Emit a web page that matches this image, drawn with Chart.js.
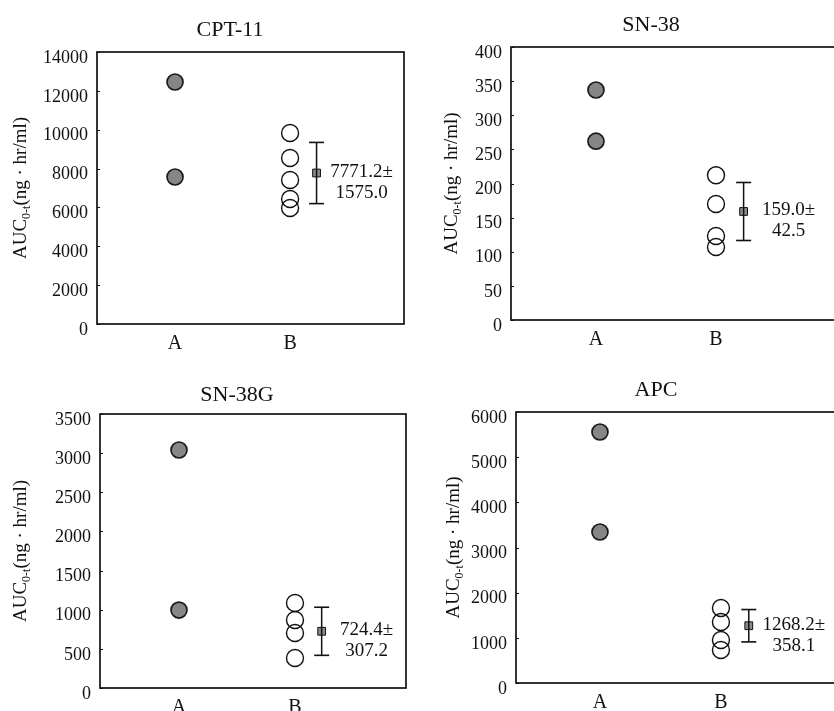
<!DOCTYPE html>
<html><head><meta charset="utf-8">
<script src="https://cdn.jsdelivr.net/npm/chart.js@4/dist/chart.umd.min.js"></script>
<style>
html,body{margin:0;padding:0;width:834px;height:711px;overflow:hidden;background:#fff;}
canvas{position:absolute;}
</style></head><body>
<canvas id="c0" width="460" height="360" style="left:0;top:0"></canvas>
<canvas id="c1" width="474" height="360" style="left:414px;top:0"></canvas>
<canvas id="c2" width="474" height="351" style="left:0;top:360px"></canvas>
<canvas id="c3" width="484" height="351" style="left:414px;top:360px"></canvas>
<script>
// ---- data ----
const categories = ['A', 'B'];
const yTitleMain = 'AUC', yTitleSub = '0-t', yTitleRest = '(ng \u00B7 hr/ml)';

const titles = ['CPT-11', 'SN-38', 'SN-38G', 'APC'];

const cpt11A = [12456, 7566];
const cpt11B = [9830, 8544, 7412, 6434, 5970];
const cpt11Mean = 7771.2, cpt11SD = 1575.0;
const cpt11Ticks = [0, 2000, 4000, 6000, 8000, 10000, 12000, 14000];

const sn38A = [337, 262];
const sn38B = [212, 170, 123, 107];
const sn38Mean = 159.0, sn38SD = 42.5;
const sn38Ticks = [0, 50, 100, 150, 200, 250, 300, 350, 400];

const sn38gA = [3040, 996];
const sn38gB = [1086, 869, 703, 383];
const sn38gMean = 724.4, sn38gSD = 307.2;
const sn38gTicks = [0, 500, 1000, 1500, 2000, 2500, 3000, 3500];

const apcA = [5557, 3343];
const apcB = [1660, 1350, 952, 730];
const apcMean = 1268.2, apcSD = 358.1;
const apcTicks = [0, 1000, 2000, 3000, 4000, 5000, 6000];

// ---- layout / style ----
const SERIF = '"Liberation Serif", "Times New Roman", serif';
const MEAN_X = 2.23;
const layouts = [
  {id:'c0', top:52, titleY:30, titleCX:230, yw:97,  pr:56, xh:36, xmin:0.322, xmax:2.99,  titleX:20},
  {id:'c1', top:47, titleY:25, titleCX:237, yw:97,  pr:48, xh:40, xmin:0.292, xmax:3.033, titleX:37},
  {id:'c2', top:54, titleY:35, titleCX:237, yw:100, pr:68, xh:23, xmin:0.319, xmax:2.957, titleX:20},
  {id:'c3', top:52, titleY:30, titleCX:242, yw:102, pr:58, xh:28, xmin:0.306, xmax:2.984, titleX:39}
];
const panels = [
  {a:cpt11A, b:cpt11B, mean:cpt11Mean, sd:cpt11SD, ticks:cpt11Ticks},
  {a:sn38A,  b:sn38B,  mean:sn38Mean,  sd:sn38SD,  ticks:sn38Ticks},
  {a:sn38gA, b:sn38gB, mean:sn38gMean, sd:sn38gSD, ticks:sn38gTicks},
  {a:apcA,   b:apcB,   mean:apcMean,   sd:apcSD,   ticks:apcTicks}
];

const decorPlugin = {
  id: 'decor',
  beforeDatasetsDraw(chart, args, o) {
    const {ctx, chartArea: ca} = chart;
    ctx.save();
    ctx.strokeStyle = '#111';
    ctx.lineWidth = 1.7;
    ctx.strokeRect(ca.left, ca.top, ca.right - ca.left, ca.bottom - ca.top);
    // inward tick marks on y axis
    const ys = chart.scales.y;
    ctx.lineWidth = 1;
    ys.ticks.forEach(t => {
      const py = Math.round(ys.getPixelForValue(t.value)) + 0.5;
      ctx.beginPath(); ctx.moveTo(ca.left, py); ctx.lineTo(ca.left + 3, py); ctx.stroke();
    });
    ctx.restore();
  },
  afterDraw(chart, args, o) {
    const {ctx, chartArea: ca} = chart;
    const xs = chart.scales.x, ys = chart.scales.y;
    ctx.save();
    ctx.fillStyle = '#111';
    // panel title
    ctx.font = '22px ' + SERIF;
    ctx.textAlign = 'center';
    ctx.textBaseline = 'middle';
    ctx.fillText(o.title, o.titleCX, o.titleY);
    // mean ± SD annotation
    ctx.font = '19px ' + SERIF;
    const mx = xs.getPixelForValue(MEAN_X) + 45;
    const my = ys.getPixelForValue(o.mean);
    ctx.fillText(o.mean.toFixed(1) + '\u00B1', mx, my - 1);
    ctx.fillText(o.sd.toFixed(1), mx, my + 20);
    // y-axis title with subscript
    ctx.translate(o.titleX, (ca.top + ca.bottom) / 2);
    ctx.rotate(-Math.PI / 2);
    ctx.textAlign = 'left';
    ctx.textBaseline = 'alphabetic';
    const big = '19px ' + SERIF, small = '12px ' + SERIF;
    ctx.font = big; const w1 = ctx.measureText(yTitleMain).width, w3 = ctx.measureText(yTitleRest).width;
    ctx.font = small; const w2 = ctx.measureText(yTitleSub).width;
    let x = -(w1 + w2 + w3) / 2;
    const base = 6;
    ctx.font = big; ctx.fillText(yTitleMain, x, base); x += w1;
    ctx.font = small; ctx.fillText(yTitleSub, x, base + 4); x += w2;
    ctx.font = big; ctx.fillText(yTitleRest, x, base);
    ctx.restore();
  }
};

panels.forEach((p, i) => {
  const L = layouts[i];
  new Chart(document.getElementById(L.id), {
    type: 'scatter',
    data: {
      datasets: [
        {data: p.a.map(v => ({x: 1, y: v})), pointRadius: 8, pointBackgroundColor: '#868686',
         pointBorderColor: '#1a1a1a', pointBorderWidth: 1.7},
        {data: p.b.map(v => ({x: 2, y: v})), pointRadius: 8.5, pointBackgroundColor: 'rgba(255,255,255,0)',
         pointBorderColor: '#111', pointBorderWidth: 1.4},
        {type: 'line', data: [{x: MEAN_X, y: p.mean - p.sd}, {x: MEAN_X, y: p.mean + p.sd}],
         borderColor: '#111', borderWidth: 1.5, pointStyle: 'line', pointRadius: 7.5,
         pointBorderWidth: 1.6, pointBorderColor: '#111', fill: false},
        {data: [{x: MEAN_X, y: p.mean}], pointStyle: 'rect', pointRadius: 5.5,
         pointBackgroundColor: '#8a8a8a', pointBorderColor: '#111', pointBorderWidth: 1}
      ]
    },
    options: {
      responsive: false,
      animation: false,
      events: [],
      layout: {padding: {left: 0, right: L.pr, top: L.top, bottom: 0}},
      plugins: {
        legend: {display: false},
        tooltip: {enabled: false},
        title: {display: false},
        decor: {mean: p.mean, sd: p.sd, titleX: L.titleX, title: titles[i], titleCX: L.titleCX, titleY: L.titleY}
      },
      scales: {
        x: {
          type: 'linear', min: L.xmin, max: L.xmax,
          grid: {display: false, drawTicks: false}, border: {display: false},
          afterBuildTicks: s => { s.ticks = categories.map((c, k) => ({value: k + 1})); },
          ticks: {callback: v => categories[Math.round(v) - 1] || '', color: '#111', padding: 8,
                  font: {family: SERIF, size: 20}, autoSkip: false, maxRotation: 0},
          afterFit: s => { s.height = L.xh; }
        },
        y: {
          min: 0, max: p.ticks[p.ticks.length - 1],
          grid: {display: false, drawTicks: false}, border: {display: false},
          afterBuildTicks: s => { s.ticks = p.ticks.map(v => ({value: v})); },
          ticks: {color: '#111', padding: 9, labelOffset: 6, font: {family: SERIF, size: 18},
                  callback: v => String(v)},
          afterFit: s => { s.width = L.yw; }
        }
      }
    },
    plugins: [decorPlugin]
  });
});
</script>
</body></html>
